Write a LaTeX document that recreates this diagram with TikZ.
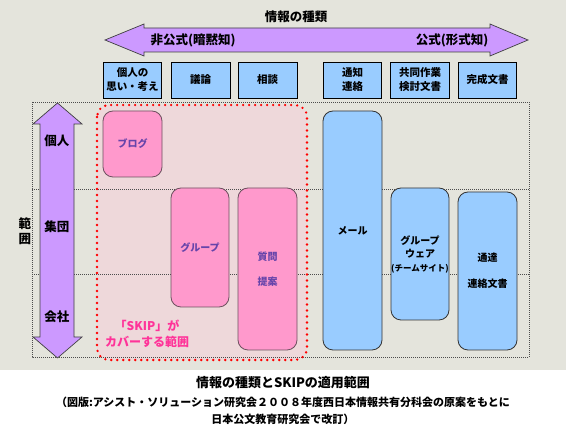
\documentclass[tikz,border=0pt]{standalone}
\usepackage{fontspec}
\setmainfont{Noto Sans CJK JP}
\definecolor{bggray}{RGB}{228,228,220}
\definecolor{purp}{RGB}{204,153,255}
\definecolor{lblue}{RGB}{153,204,255}
\definecolor{lpink}{RGB}{255,153,204}
\definecolor{pinkedge}{RGB}{110,80,95}
\definecolor{regpink}{RGB}{238,216,218}
\definecolor{pinktext}{RGB}{102,68,170}
\definecolor{skipcol}{RGB}{255,51,153}
\tikzset{
  topbox/.style={draw=black, line width=0.8pt, fill=lblue, minimum height=36pt, inner sep=0pt, align=center, font=\bfseries\fontsize{10.5}{14}\selectfont},
  bluebox/.style={draw=black!80, line width=0.8pt, fill=lblue, rounded corners=10pt, inner sep=0pt, align=center, font=\bfseries\fontsize{10}{12}\selectfont},
  pinkbox/.style={draw=pinkedge, line width=0.8pt, fill=lpink, rounded corners=10pt, inner sep=0pt, align=center, text=pinktext, font=\bfseries\fontsize{10}{12}\selectfont},
  arrowshape/.style={draw=black!75, line width=0.7pt, fill=purp},
  gridline/.style={black!70, line width=0.6pt, dash pattern=on 1pt off 1pt},
  lbl/.style={inner sep=0pt, font=\bfseries\fontsize{12.5}{14}\selectfont},
}
\begin{document}
\begin{tikzpicture}[x=1pt,y=-1pt]
\useasboundingbox (0,0) rectangle (566,427);
% backgrounds
\fill[white] (0,0) rectangle (566,427);
\fill[bggray] (0,0) rectangle (566,370);
% title
\node[lbl] (title) at (296,17) {情報の種類};
% horizontal double arrow
\draw[arrowshape] (105,40) -- (144,24) -- (144,28) -- (490,28) -- (490,24) -- (528,40)
  -- (490,56) -- (490,52) -- (144,52) -- (144,56) -- cycle;
\node[lbl] (informal) at (193,40) {非公式(暗黙知)};
\node[lbl] (formal) at (452,40) {公式(形式知)};
% top boxes
\node[topbox, minimum width=58pt] (t1) at (132.5,80) {個人の\\思い・考え};
\node[topbox, minimum width=59pt] (t2) at (200.5,80) {議論};
\node[topbox, minimum width=59pt] (t3) at (267.5,80) {相談};
\node[topbox, minimum width=58pt] (t4) at (352.5,80) {通知\\連絡};
\node[topbox, minimum width=59pt] (t5) at (420,80) {共同作業\\検討文書};
\node[topbox, minimum width=58pt] (t6) at (487.5,80) {完成文書};
% pink region
\draw[fill=regpink, draw=none, rounded corners=12pt] (97,105) rectangle (307,360);
% dashed frame and rows
\draw[gridline] (32,102) rectangle (529,357);
\coordinate (r1l) at (32,189); \coordinate (r1r) at (529,189);
\coordinate (r2l) at (32,274); \coordinate (r2r) at (529,274);
\draw[gridline] (r1l) -- (r1r);
\draw[gridline] (r2l) -- (r2r);
\draw[red, line width=2.6pt, line cap=round, dash pattern=on 0pt off 6pt, rounded corners=12pt] (97,105) rectangle (307,360);
% vertical arrow
\draw[arrowshape] (57.5,103) -- (82,124) -- (74,124) -- (74,337) -- (82,337) -- (57.5,358)
  -- (33,337) -- (40,337) -- (40,124) -- (33,124) -- cycle;
\node[lbl] (kojin) at (57,141) {個人};
\node[lbl] (shudan) at (57,227) {集団};
\node[lbl] (kaisha) at (57,317) {会社};
\node[lbl, align=center, font=\bfseries\fontsize{12.5}{14.5}\selectfont] (hani) at (25,231) {範\\囲};
% pink boxes
\node[pinkbox, minimum width=59pt, minimum height=66pt] (blog) at (132.5,144) {ブログ};
\node[pinkbox, minimum width=58pt, minimum height=119pt] (group) at (200,247.5) {グループ};
\node[pinkbox, minimum width=59pt, minimum height=162pt] (qa) at (267.5,269) {質問\\[13pt]提案};
% blue boxes
\node[bluebox, minimum width=59pt, minimum height=239pt] (mail) at (352.5,230.5) {メール};
\node[bluebox, minimum width=58pt, minimum height=132pt] (gw) at (420,254) {グループ\\[1.5pt]ウェア\\[1.5pt]{\fontsize{8.5}{10}\selectfont (チームサイト)}};
\node[bluebox, minimum width=59pt, minimum height=158pt] (tsuta) at (487.5,271) {通達\\[14pt]連絡文書};
% SKIP label
\node[inner sep=0pt, align=center, text=skipcol, font=\bfseries\fontsize{12}{16}\selectfont] (skip) at (147,334) {「SKIP」が\\カバーする範囲};
% captions
\node[inner sep=0pt, font=\bfseries\fontsize{13}{15}\selectfont] (cap1) at (283,383) {情報の種類とSKIPの適用範囲};
\node[inner sep=0pt, align=center, font=\bfseries\fontsize{11}{17}\selectfont] (cap2) at (283,411) {（図版:アシスト・ソリューション研究会２００８年度西日本情報共有分科会の原案をもとに\\日本公文教育研究会で改訂）};
\end{tikzpicture}
\end{document}
